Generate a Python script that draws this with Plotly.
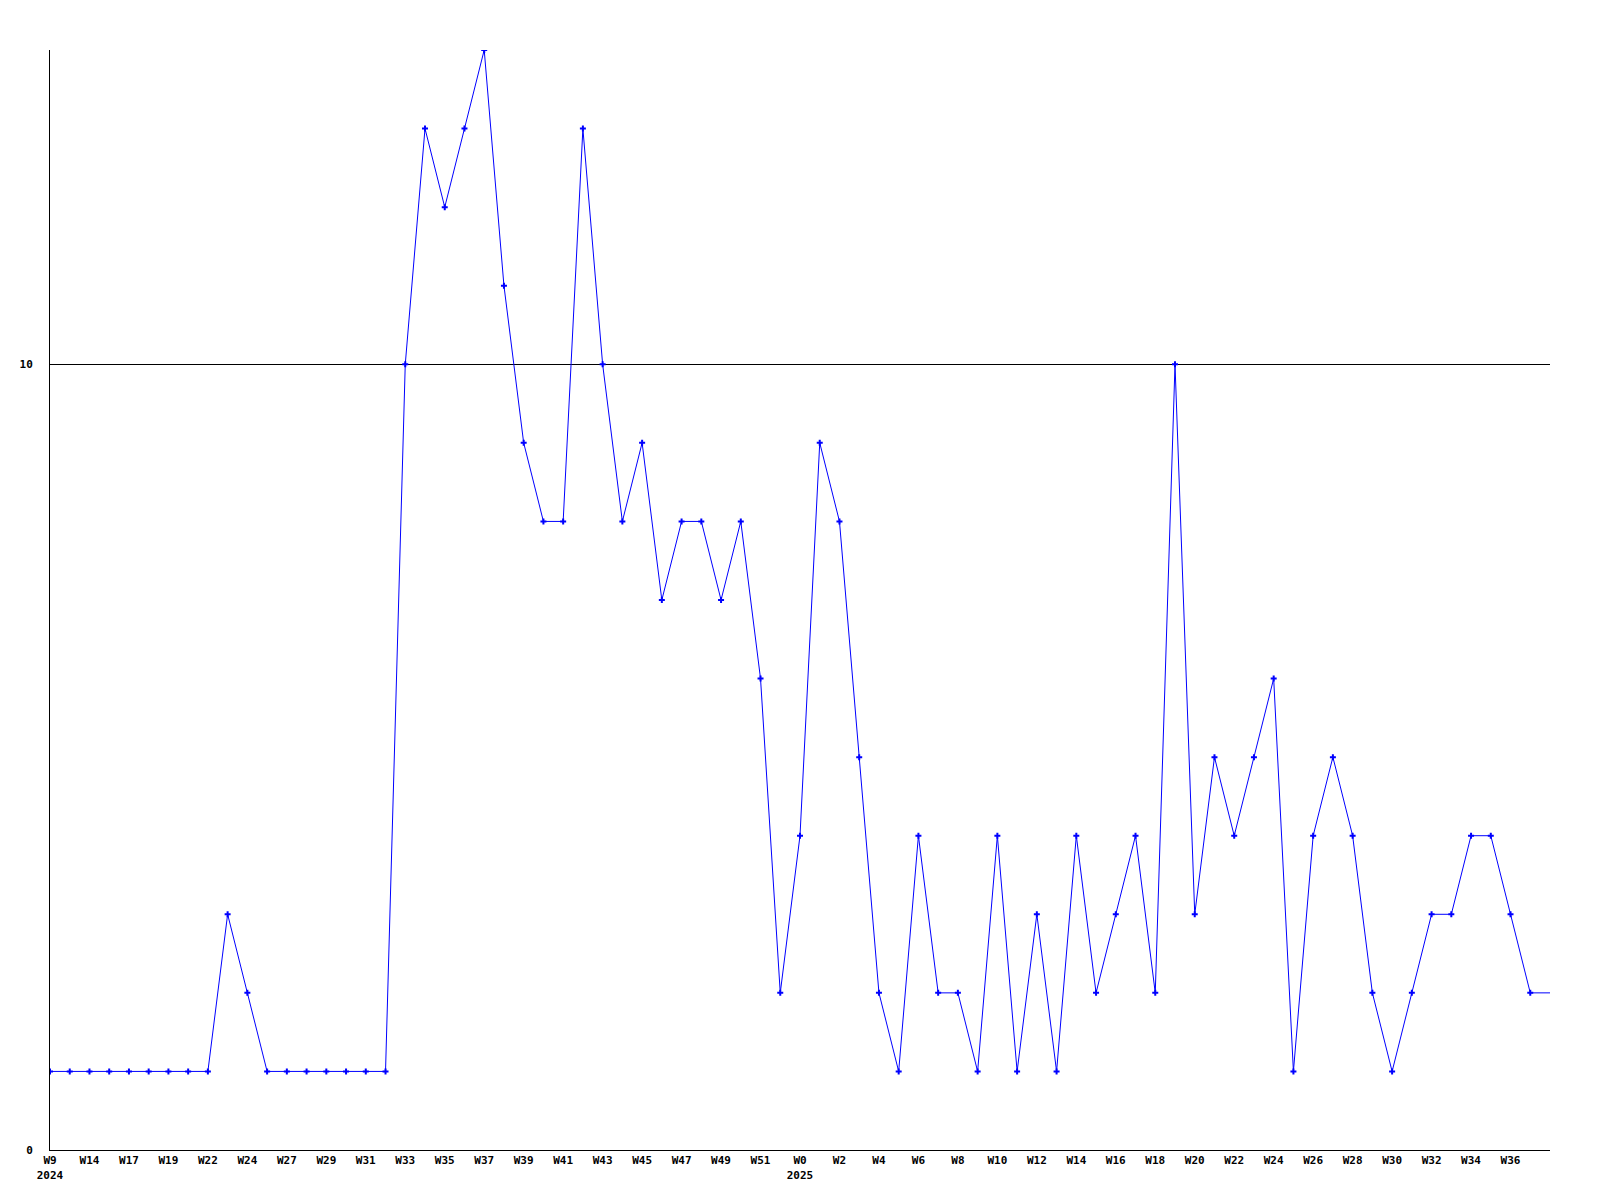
import plotly.graph_objects as go

weeks = ["W9", "W12", "W14", "W16", "W17", "W18", "W19", "W21", "W22", "W23",
         "W24", "W26", "W27", "W28", "W29", "W30", "W31", "W32", "W33", "W34",
         "W35", "W36", "W37", "W38", "W39", "W40", "W41", "W42", "W43", "W44",
         "W45", "W46", "W47", "W48", "W49", "W50", "W51", "W52", "W0", "W1",
         "W2", "W3", "W4", "W5", "W6", "W7", "W8", "W9", "W10", "W11",
         "W12", "W13", "W14", "W15", "W16", "W17", "W18", "W19", "W20", "W21",
         "W22", "W23", "W24", "W25", "W26", "W27", "W28", "W29", "W30", "W31",
         "W32", "W33", "W34", "W35", "W36", "W37", "W38"]
years = {0: "2024", 38: "2025"}
values = [1, 1, 1, 1, 1, 1, 1, 1, 1, 3,
          2, 1, 1, 1, 1, 1, 1, 1, 10, 13,
          12, 13, 14, 11, 9, 8, 8, 13, 10, 8,
          9, 7, 8, 8, 7, 8, 6, 2, 4, 9,
          8, 5, 2, 1, 4, 2, 2, 1, 4, 1,
          3, 1, 4, 2, 3, 4, 2, 10, 3, 5,
          4, 5, 6, 1, 4, 5, 4, 2, 1, 2,
          3, 3, 4, 4, 3, 2, 2]
y_ticks = [0, 10]

x = list(range(len(values)))
tickvals = x[::2][:38]
ticktext = [weeks[i] + ("<br>" + years[i] if i in years else "") for i in tickvals]

fig = go.Figure()
fig.add_trace(go.Scatter(
    x=x, y=values, mode="lines",
    line=dict(color="#0000ff", width=1), hoverinfo="skip", showlegend=False))
fig.add_trace(go.Scatter(
    x=x[:-1], y=values[:-1], mode="markers",
    marker=dict(color="#0000ff", symbol="cross", size=5, line=dict(width=0)),
    showlegend=False))

tf = dict(family="DejaVu Sans Mono", size=11, color="black", weight="bold")
fig.update_layout(
    width=1600, height=1200,
    margin=dict(l=42, r=58, t=42, b=58, pad=0),
    plot_bgcolor="white", paper_bgcolor="white",
    font=dict(family="DejaVu Sans Mono", size=11, color="black"), showlegend=False,
    xaxis=dict(range=[0, 76], tickvals=tickvals, ticktext=ticktext,
               showgrid=False, zeroline=False, showline=True, linecolor="black",
               linewidth=1, ticks="", tickfont=tf, tickangle=0),
    yaxis=dict(range=[0, 14], tickvals=y_ticks, showgrid=True, gridcolor="black",
               gridwidth=1, zeroline=False, showline=True, linecolor="black",
               linewidth=1, ticks="", ticklabelstandoff=14, tickfont=tf),
)
fig.write_html("out.html")
